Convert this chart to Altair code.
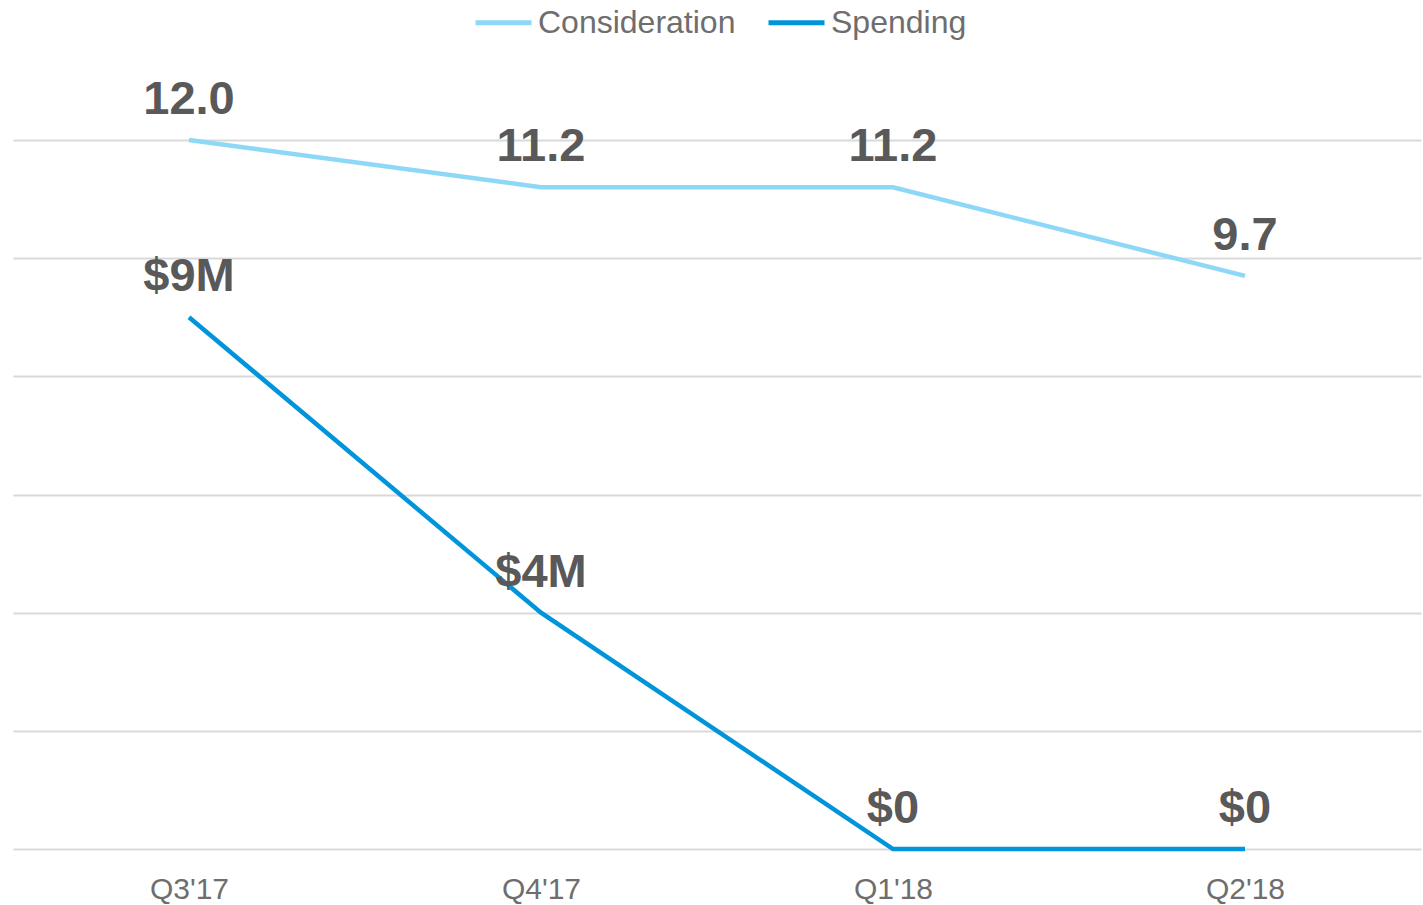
import altair as alt
import pandas as pd

quarters = ["Q3'17", "Q4'17", "Q1'18", "Q2'18"]
consideration = [12.0, 11.2, 11.2, 9.7]
spending = [9, 4, 0, 0]
consideration_labels = ["12.0", "11.2", "11.2", "9.7"]
spending_labels = ["$9M", "$4M", "$0", "$0"]
series_names = ["Consideration", "Spending"]
series_colors = ["#8DD7F7", "#0095DA"]

rows = []
for q, v, l in zip(quarters, consideration, consideration_labels):
    rows.append({"quarter": q, "value": v, "label": l, "series": "Consideration"})
for q, v, l in zip(quarters, spending, spending_labels):
    rows.append({"quarter": q, "value": v, "label": l, "series": "Spending"})
df = pd.DataFrame(rows)

x = alt.X(
    "quarter:N", sort=quarters,
    scale=alt.Scale(type="point", padding=0.5),
    axis=alt.Axis(title=None, labelAngle=0, ticks=False, domain=False,
                  labelPadding=25, labelFontSize=30, labelColor="#6E6E6E",
                  labelFont="Liberation Sans", grid=False),
)
y = alt.Y(
    "value:Q",
    scale=alt.Scale(domain=[0, 12], nice=False, zero=True),
    axis=alt.Axis(title=None, labels=False, ticks=False, domain=False,
                  values=[0, 2, 4, 6, 8, 10, 12], gridColor="#D9D9D9", gridWidth=2),
)
color = alt.Color(
    "series:N",
    scale=alt.Scale(domain=series_names, range=series_colors),
    legend=alt.Legend(title=None, orient="none", legendX=460, legendY=-148,
                      direction="horizontal", symbolType="stroke", symbolSize=3136,
                      symbolStrokeWidth=5, labelFontSize=32, labelColor="#6E6E6E",
                      labelFont="Liberation Sans", labelOffset=4, columnPadding=22,
                      labelLimit=0),
)

lines = alt.Chart(df).mark_line(strokeWidth=4.5).encode(x=x, y=y, color=color)
texts = alt.Chart(df).mark_text(
    dy=-26, baseline="alphabetic", fontSize=47, fontWeight="bold",
    color="#595959", font="Liberation Sans",
).encode(x=x, y=y, text="label:N")

chart = alt.layer(lines, texts).properties(
    width=1408, height=709,
    padding={"left": 13, "top": 140, "right": 2, "bottom": 56},
    autosize=alt.AutoSizeParams(type="none"),
).configure_view(stroke=None)

chart.save("out.html", embed_options={"renderer": "svg", "actions": False})
